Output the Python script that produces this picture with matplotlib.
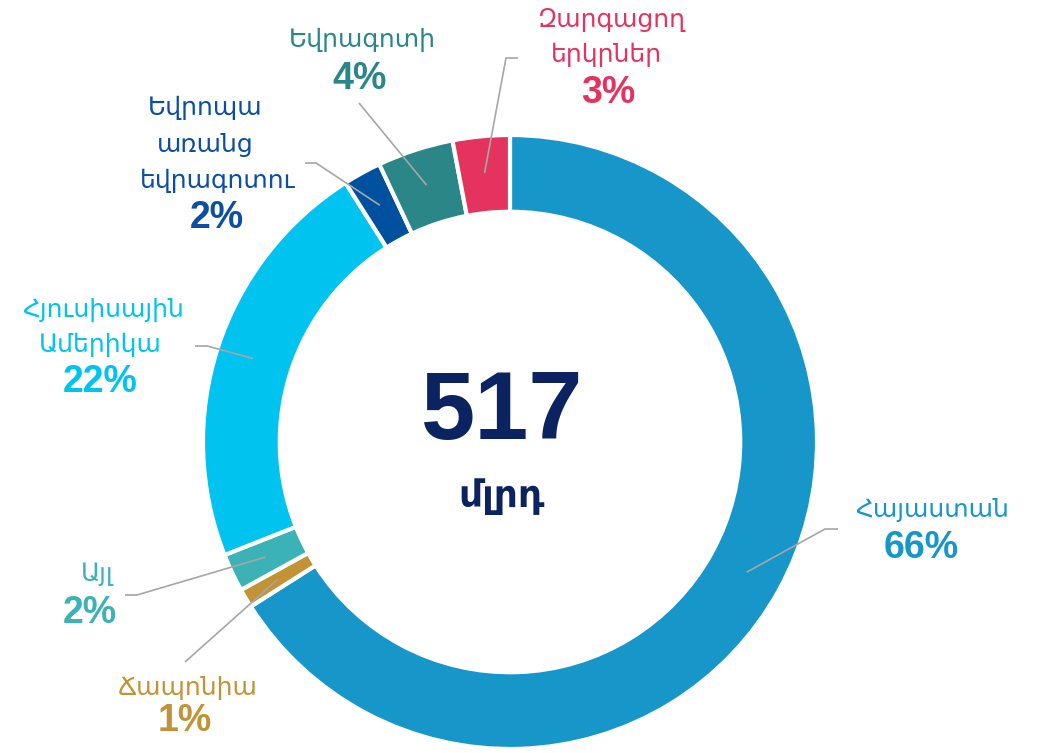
import matplotlib
matplotlib.use("Agg")
import matplotlib.pyplot as plt
import numpy as np

# ---- data ----
labels = ["Հայաստան", "Ճապոնիա", "Այլ", "Հյուսիսային\nԱմերիկա",
          "Եվրոպա\nառանց\nեվրագոտու", "Եվրագոտի", "Զարգացող\nերկրներ"]
values = [66, 1, 2, 22, 2, 4, 3]
pct_labels = ["66%", "1%", "2%", "22%", "2%", "4%", "3%"]
colors = ["#1797C9", "#C29334", "#3BB3B6", "#00C3EF", "#0050A0", "#2B8787", "#E5335F"]
text_colors = ["#1797C9", "#C29334", "#3BB3B6", "#00C3EF", "#0B4EA2", "#2B8787", "#E5335F"]
total_value = "517"
total_unit = "մլրդ"

W, H = 1037, 753
fig = plt.figure(figsize=(W / 100, H / 100), dpi=100)
ax = fig.add_axes([0, 0, 1, 1])

def Y(y):
    return H - y

cx, cy, R = 510, Y(442), 307
wedges, _ = ax.pie(values, colors=colors, startangle=90, counterclock=False,
                   center=(cx, cy), radius=R, frame=True,
                   wedgeprops=dict(width=R * 0.25, edgecolor="white", linewidth=3))
ax.set_xlim(0, W)
ax.set_ylim(0, H)
ax.set_aspect("equal")
ax.axis("off")

# label layout (pixel coords): text line centers, leader path after anchor
layout = [
    dict(lines=[(932, 510)], pct=(921, 548), path=[(825, 529), (838, 529)]),
    dict(lines=[(188, 688)], pct=(185, 721), path=[(185, 662)]),
    dict(lines=[(97, 574)], pct=(90, 613), path=[(137, 595), (125, 595)]),
    dict(lines=[(103, 310), (100, 345)], pct=(100, 382), path=[(207, 346), (195, 346)]),
    dict(lines=[(205, 108), (205, 145), (218, 181)], pct=(217, 218), path=[(316, 163), (305, 163)]),
    dict(lines=[(362, 40)], pct=(360, 79), path=[(359, 103)]),
    dict(lines=[(612, 20), (606, 55)], pct=(608, 93), path=[(506, 58), (518, 58)]),
]

for w, lab, pct, tc, lay in zip(wedges, labels, pct_labels, text_colors, layout):
    mid = np.deg2rad((w.theta1 + w.theta2) / 2)
    r_anchor = R * 0.88
    ax0 = cx + r_anchor * np.cos(mid)
    ay0 = cy + r_anchor * np.sin(mid)
    xs = [ax0] + [p[0] for p in lay["path"]]
    ys = [ay0] + [Y(p[1]) for p in lay["path"]]
    ax.plot(xs, ys, color="#A6A6A6", lw=1.2, solid_capstyle="butt", zorder=5)
    for line, (tx, ty) in zip(lab.split("\n"), lay["lines"]):
        ax.text(tx, Y(ty), line, ha="center", va="center", color=tc,
                fontsize=18, family="DejaVu Sans")
    px, py = lay["pct"]
    ax.text(px, Y(py), pct, ha="center", va="center", color=tc,
            fontsize=27, fontweight="bold", family="Liberation Sans")

ax.text(502, Y(414), total_value, ha="center", va="center", color="#0B2461",
        fontsize=70, fontweight="bold", family="Liberation Sans")
ax.text(502, Y(497), total_unit, ha="center", va="center", color="#0B2461",
        fontsize=27, fontweight="bold", family="DejaVu Sans")

fig.savefig("out.png", dpi=100)
